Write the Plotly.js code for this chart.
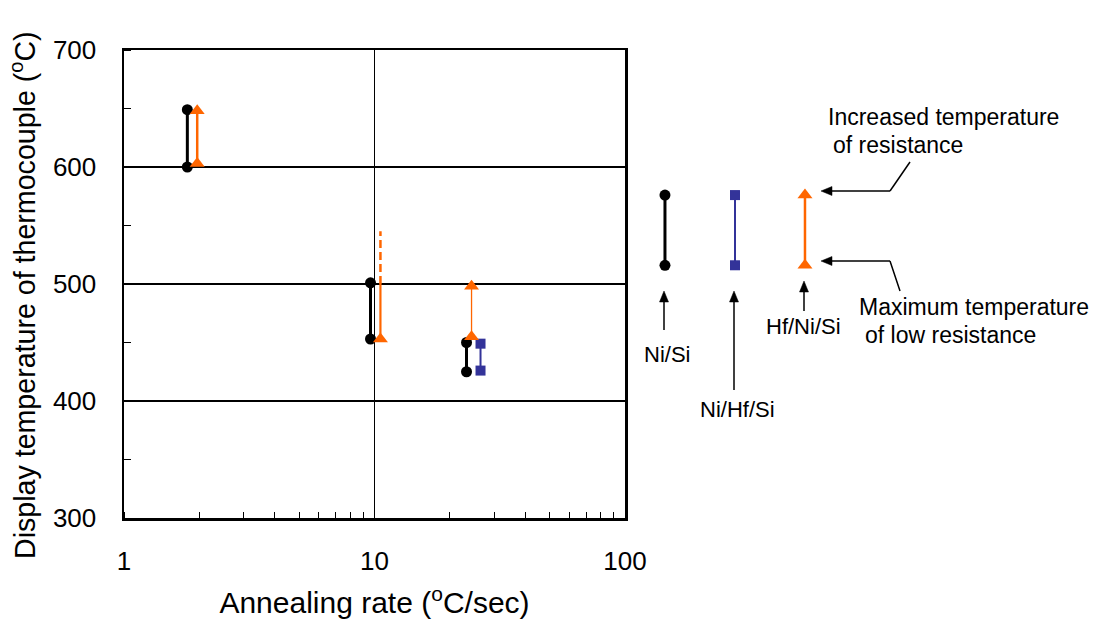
<!DOCTYPE html>
<html>
<head>
<meta charset="utf-8">
<script src="https://cdn.plot.ly/plotly-3.0.1.min.js"></script>
<style>html,body{margin:0;padding:0;background:#fff;}#chart{width:1099px;height:623px;}</style>
</head>
<body>
<div id="chart"></div>
<script>
// ---- Data ----
const niSiRate = [1.79, 9.64, 23.3];
const niSiLow = [600, 453, 425];
const niSiHigh = [649, 501, 450];

const niHfSiRate = [26.5];
const niHfSiLow = [426];
const niHfSiHigh = [449];

const hfNiSiRate = [1.96, 10.56, 24.4];
const hfNiSiLow = [603, 453, 455];
const hfNiSiHigh = [648, 500, 498];
const hfNiSiHighMarked = [true, false, true];
const hfNiSiDashedTop = [null, 545, null];

const xTickVals = [1, 10, 100];
const xTickText = ['1', '10', '100'];
const yTickVals = [300, 400, 500, 600, 700];

const keyNames = ['Ni/Si', 'Ni/Hf/Si', 'Hf/Ni/Si'];
const keyLow = 516;
const keyHigh = 576;

// ---- helpers ----
const W = 1099, H = 623, ML = 124, MR = 0, MT = 50, MB = 105;
const PW = W - ML - MR, PH = H - MT - MB;
const px = v => (v - ML) / PW;
const py = v => (H - MB - v) / PH;

function segs(xs, lo, hi) {
  const x = [], y = [];
  xs.forEach((r, i) => { x.push(r, r, null); y.push(lo[i], hi[i], null); });
  return {x, y};
}

const BLACK = '#000000', BLUE = '#333399', ORANGE = '#FF6600';
const traces = [];

// Ni/Si
const s1 = segs(niSiRate, niSiLow, niSiHigh);
traces.push({x: s1.x, y: s1.y, mode: 'lines+markers', type: 'scatter',
  line: {color: BLACK, width: 3}, marker: {symbol: 'circle', size: 11, color: BLACK}, cliponaxis: false, showlegend: false});

// Ni/Hf/Si
const s2 = segs(niHfSiRate, niHfSiLow, niHfSiHigh);
traces.push({x: s2.x, y: s2.y, mode: 'lines+markers', type: 'scatter',
  line: {color: BLUE, width: 2}, marker: {symbol: 'square', size: 10, color: BLUE}, cliponaxis: false, showlegend: false});

// Hf/Ni/Si lines
const widths = [2.5, 2.2, 1.3];
hfNiSiRate.forEach((r, i) => {
  traces.push({x: [r, r], y: [hfNiSiLow[i], hfNiSiHigh[i]], mode: 'lines', type: 'scatter',
    line: {color: ORANGE, width: widths[i]}, showlegend: false});
  if (hfNiSiDashedTop[i] !== null) {
    traces.push({x: [r, r], y: [hfNiSiHigh[i], hfNiSiDashedTop[i]], mode: 'lines', type: 'scatter',
      line: {color: ORANGE, width: 2.5, dash: '8px,4px'}, showlegend: false});
  }
});
// Hf/Ni/Si markers
const mx = [], my = [];
hfNiSiRate.forEach((r, i) => {
  mx.push(r); my.push(hfNiSiLow[i]);
  if (hfNiSiHighMarked[i]) { mx.push(r); my.push(hfNiSiHigh[i]); }
});
traces.push({x: mx, y: my, mode: 'markers', type: 'scatter',
  marker: {symbol: 'triangle-up', size: 13, color: ORANGE}, cliponaxis: false, showlegend: false});

// Key (drawn on a second pair of axes at the right)
const keyColors = [BLACK, BLUE, ORANGE];
const keySymbols = ['circle', 'square', 'triangle-up'];
const keySizes = [11, 10, 13];
const keyWidths = [3, 2, 2.5];
keyNames.forEach((n, i) => {
  traces.push({x: [n, n], y: [keyLow, keyHigh], xaxis: 'x2', yaxis: 'y2', mode: 'lines+markers', type: 'scatter',
    line: {color: keyColors[i], width: keyWidths[i]},
    marker: {symbol: keySymbols[i], size: keySizes[i], color: keyColors[i]}, cliponaxis: false, showlegend: false});
});

const FONT = 'Liberation Sans, Arial, sans-serif';
const keyFont = {family: FONT, size: 22, color: '#000'};
const calloutFont = {family: FONT, size: 23, color: '#000'};

const annotations = [
  {xref: 'paper', yref: 'paper', x: px(23), y: py(295), text: 'Display temperature of thermocouple (<sup>o</sup>C)', textangle: -90,
    showarrow: false, font: {family: FONT, size: 28.6, color: '#000'}, xanchor: 'center', yanchor: 'middle'},
  {xref: 'paper', yref: 'paper', x: px(667), y: py(354), text: 'Ni/Si', showarrow: false, font: keyFont, xanchor: 'center', yanchor: 'middle'},
  {xref: 'paper', yref: 'paper', x: px(737), y: py(410), text: 'Ni/Hf/Si', showarrow: false, font: keyFont, xanchor: 'center', yanchor: 'middle'},
  {xref: 'paper', yref: 'paper', x: px(803), y: py(326), text: 'Hf/Ni/Si', showarrow: false, font: keyFont, xanchor: 'center', yanchor: 'middle'},
  {xref: 'paper', yref: 'paper', x: px(826), y: py(117), text: 'Increased temperature', showarrow: false, font: calloutFont, xanchor: 'left', yanchor: 'middle'},
  {xref: 'paper', yref: 'paper', x: px(831), y: py(145), text: 'of resistance', showarrow: false, font: calloutFont, xanchor: 'left', yanchor: 'middle'},
  {xref: 'paper', yref: 'paper', x: px(857), y: py(307), text: 'Maximum temperature', showarrow: false, font: calloutFont, xanchor: 'left', yanchor: 'middle'},
  {xref: 'paper', yref: 'paper', x: px(863), y: py(335), text: 'of low resistance', showarrow: false, font: calloutFont, xanchor: 'left', yanchor: 'middle'}
];

// arrows drawn as shapes (pixel coords -> paper)
const shapes = [];
function line(x0, y0, x1, y1) {
  shapes.push({type: 'line', xref: 'paper', yref: 'paper', x0: px(x0), y0: py(y0), x1: px(x1), y1: py(y1),
    line: {color: '#000', width: 1.5}});
}
function arrow(tx, ty, hx, hy) {
  const L = 11, hw = 4.5;
  const dx = hx - tx, dy = hy - ty, d = Math.hypot(dx, dy);
  const ux = dx / d, uy = dy / d;
  const bx = hx - ux * L, by = hy - uy * L;
  line(tx, ty, bx, by);
  const p1 = [bx - uy * hw, by + ux * hw], p2 = [bx + uy * hw, by - ux * hw];
  shapes.push({type: 'path', xref: 'paper', yref: 'paper',
    path: `M ${px(hx)} ${py(hy)} L ${px(p1[0])} ${py(p1[1])} L ${px(p2[0])} ${py(p2[1])} Z`,
    fillcolor: '#000', line: {color: '#000', width: 0.5}});
}
arrow(664, 330, 664, 291);
arrow(734, 390, 734, 291);
arrow(804, 311, 804, 281);
arrow(890, 191, 821, 191);
arrow(890, 261, 821, 261);
line(890, 191, 910, 162);
line(890, 261, 900, 291);

const xEnd = px(625);

const layout = {
  width: W, height: H,
  margin: {l: ML, r: MR, t: MT, b: MB, pad: 0},
  paper_bgcolor: '#fff', plot_bgcolor: '#fff',
  font: {family: FONT, color: '#000'},
  showlegend: false,
  xaxis: {
    type: 'log', domain: [0, xEnd], range: [0, 2],
    tickvals: xTickVals, ticktext: xTickText, ticks: '',
    tickfont: {size: 26, family: FONT}, ticklabelstandoff: 18,
    showgrid: true, gridcolor: '#000', gridwidth: 1.8,
    showline: true, linecolor: '#000', linewidth: 2.5, mirror: true,
    zeroline: false,
    minor: {ticks: 'inside', ticklen: 6, tickcolor: '#000', tickwidth: 1, showgrid: false, dtick: 'D1'},
    title: {text: 'Annealing rate (<sup>o</sup>C/sec)', font: {size: 30, family: FONT}, standoff: 18}
  },
  yaxis: {
    range: [300, 700], tickvals: yTickVals, ticks: '',
    tickfont: {size: 26, family: FONT}, ticklabelstandoff: 20,
    showgrid: true, gridcolor: '#000', gridwidth: 1.8,
    showline: true, linecolor: '#000', linewidth: 2.5, mirror: true,
    zeroline: false,
    minor: {ticks: 'inside', ticklen: 7, tickcolor: '#000', tickwidth: 1, showgrid: false, dtick: 50}
  },
  xaxis2: {
    type: 'category', domain: [xEnd, 1], anchor: 'y2', range: [-0.571, 6.2],
    categoryorder: 'array', categoryarray: keyNames,
    visible: false, showgrid: false, zeroline: false, showline: false, showticklabels: false
  },
  yaxis2: {
    range: [300, 700], anchor: 'x2', domain: [0, 1],
    visible: false, showgrid: false, zeroline: false, showline: false, showticklabels: false
  },
  annotations: annotations,
  shapes: shapes
};

Plotly.newPlot('chart', traces, layout, {displayModeBar: false, staticPlot: true});
</script>
</body>
</html>
